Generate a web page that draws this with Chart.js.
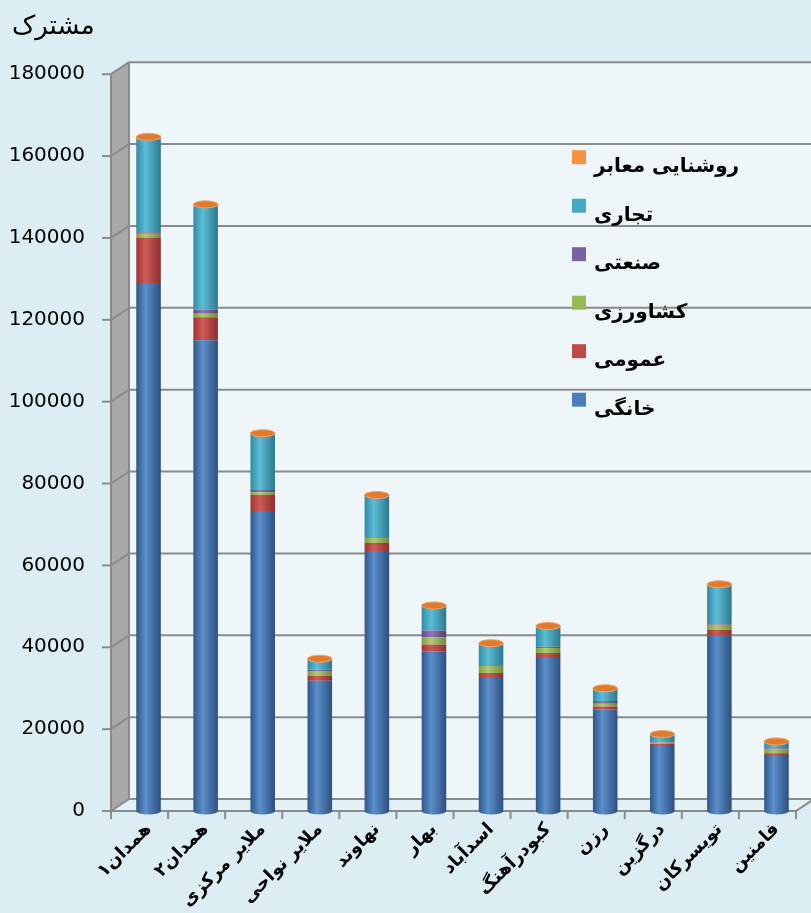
<!DOCTYPE html>
<html><head><meta charset="utf-8">
<script src="https://cdn.jsdelivr.net/npm/chart.js@4/dist/chart.umd.min.js"></script>
<style>html,body{margin:0;padding:0;background:#dcedf3;overflow:hidden}</style>
</head><body>
<canvas id="c" width="811" height="913"></canvas>
<script>
// ---- data ----
const categories = ['همدان۱','همدان۲','ملایر مرکزی','ملایر نواحی','نهاوند','بهار','اسدآباد','کبودرآهنگ','رزن','درگزین','تویسرکان','فامنین'];
const seriesNames = ['خانگی','عمومی','کشاورزی','صنعتی','تجاری','روشنایی معابر'];
const household   = [129000,115000,73300,31800,63500,39000,32500,37600,24800,16100,42800,13700];
const general     = [11000,5600,3900,1200,2000,1700,1200,1000,700,300,1500,400];
const agriculture = [1000,900,700,1200,1200,1700,1700,1200,700,300,1200,900];
const industrial  = [400,1000,500,300,200,1700,200,300,700,100,200,300];
const commercial  = [22700,25200,13500,2400,10000,5800,5100,4800,2900,1800,9400,1400];
const streetLight = [600,500,400,300,300,300,300,300,200,200,300,300];
const yTickLabels = ['0','20000','40000','60000','80000','100000','120000','140000','160000','180000'];
const yAxisTitle = 'مشترک';

// ---- styles ----
const BAR_PCT = 0.43;
const flat = ['#4a7ebb','#be4b48','#98b954','#7d60a0','#46aac5','#f69240'];
const shades = [
  ['#2f5788','#5c8fcb','#2c5080'],
  ['#9a3835','#cf5a55','#8a302d'],
  ['#7f9c44','#b0cc72','#6f8a3a'],
  ['#624a83','#9178b5','#553f73'],
  ['#338aa3','#5cbdd6','#2c788e'],
  ['#d8782f','#fba45c','#c86b26']
];
function cylFill(s) {
  return (ctx) => {
    const chart = ctx.chart;
    if (!chart.chartArea || ctx.type !== 'data' || !chart.scales.x) return shades[s][1];
    const xs = chart.scales.x;
    const cx = xs.getPixelForValue(ctx.dataIndex);
    const w = (xs.width / categories.length) * BAR_PCT;
    const g = chart.ctx.createLinearGradient(cx - w / 2, 0, cx + w / 2, 0);
    g.addColorStop(0, shades[s][0]);
    g.addColorStop(0.38, shades[s][1]);
    g.addColorStop(1, shades[s][2]);
    return g;
  };
}
const seriesData = [household, general, agriculture, industrial, commercial, streetLight];
const datasets = seriesData.map((d, i) => ({
  label: seriesNames[i],
  data: d,
  backgroundColor: cylFill(i),
  borderWidth: 0,
  barPercentage: BAR_PCT,
  categoryPercentage: 1
}));

const DX = 18, DY = -12, FRONT_IN = 9;
const deco = {
  id: 'deco',
  afterLayout(chart) {
    if (chart.titleBlock) chart.titleBlock.left += 8;
  },
  beforeDraw(chart) {
    const c = chart.ctx, ca = chart.chartArea, ys = chart.scales.y;
    const W = chart.width;
    c.save();
    c.fillStyle = '#dcedf3';
    c.fillRect(0, 0, W, chart.height);
    const yTop = ys.getPixelForValue(180000), yBot = ys.getPixelForValue(0);
    const FX = ca.left - FRONT_IN;
    const catW = (ca.right - ca.left) / categories.length;
    const FR = FX + catW * categories.length;
    c.fillStyle = '#eef6f9';
    c.fillRect(FX + DX, yTop + DY, W - (FX + DX), yBot - yTop);
    c.beginPath();
    c.moveTo(FX, yBot); c.lineTo(FX + DX, yBot + DY); c.lineTo(FR + DX, yBot + DY); c.lineTo(FR, yBot); c.closePath();
    c.fillStyle = '#e4f1f6'; c.fill();
    c.beginPath();
    c.moveTo(FX, yTop); c.lineTo(FX + DX, yTop + DY); c.lineTo(FX + DX, yBot + DY); c.lineTo(FX, yBot); c.closePath();
    c.fillStyle = '#a9a9a9'; c.fill();
    c.strokeStyle = '#8a8a8a'; c.lineWidth = 2;
    for (let v = 0; v <= 180000; v += 20000) {
      const y = ys.getPixelForValue(v);
      c.beginPath(); c.moveTo(FX + DX, y + DY); c.lineTo(W, y + DY); c.stroke();
      c.beginPath(); c.moveTo(FX, y); c.lineTo(FX + DX, y + DY); c.stroke();
      c.beginPath(); c.moveTo(FX - 9, y); c.lineTo(FX, y); c.stroke();
    }
    c.beginPath(); c.moveTo(FX, yTop); c.lineTo(FX, yBot); c.stroke();
    c.beginPath(); c.moveTo(FX + DX, yTop + DY); c.lineTo(FX + DX, yBot + DY); c.stroke();
    c.beginPath(); c.moveTo(FX, yBot); c.lineTo(FR, yBot); c.lineTo(FR + DX, yBot + DY); c.stroke();
    for (let k = 0; k <= categories.length; k++) {
      const x = FX + k * catW;
      c.beginPath(); c.moveTo(x, yBot); c.lineTo(x, yBot + 8); c.stroke();
    }
    c.restore();
  },
  afterDatasetsDraw(chart) {
    const c = chart.ctx, ys = chart.scales.y;
    const n = chart.data.datasets.length;
    const yBot = ys.getPixelForValue(0);
    const first = chart.getDatasetMeta(0).data;
    const last = chart.getDatasetMeta(n - 1).data;
    c.save();
    first.forEach((el) => {
      const w = el.width;
      c.beginPath();
      c.ellipse(el.x, yBot, w / 2, 3.5, 0, 0, Math.PI);
      const g = c.createLinearGradient(el.x - w / 2, 0, el.x + w / 2, 0);
      g.addColorStop(0, shades[0][0]); g.addColorStop(0.38, shades[0][1]); g.addColorStop(1, shades[0][2]);
      c.fillStyle = g; c.fill();
    });
    last.forEach((el) => {
      const w = el.width;
      c.beginPath();
      c.ellipse(el.x, el.y, w / 2, 3.5, 0, 0, Math.PI * 2);
      c.fillStyle = '#e07a2c'; c.fill();
      c.strokeStyle = '#f3a468'; c.lineWidth = 1; c.stroke();
    });
    c.restore();
  },
  afterDraw(chart) {
    const c = chart.ctx, ca = chart.chartArea;
    const ds = chart.data.datasets;
    c.save();
    c.font = 'bold 20px "DejaVu Sans"';
    c.textBaseline = 'middle';
    c.textAlign = 'left';
    const x0 = ca.left + 452, y0 = ca.top + 76, step = 48.5;
    for (let k = 0; k < ds.length; k++) {
      const i = ds.length - 1 - k;
      const y = y0 + k * step;
      c.fillStyle = flat[i];
      c.fillRect(x0, y, 14, 14);
      c.fillStyle = '#000';
      c.fillText(ds[i].label, x0 + 22, y + 17);
    }
    c.restore();
  }
};

new Chart(document.getElementById('c'), {
  type: 'bar',
  data: { labels: categories, datasets },
  options: {
    responsive: false,
    animation: false,
    devicePixelRatio: 1,
    layout: { padding: { top: 12, left: 4, right: 6, bottom: 0 } },
    plugins: {
      legend: { display: false },
      tooltip: { enabled: false },
      title: {
        display: true, text: yAxisTitle, align: 'start', color: '#000',
        font: { family: '"DejaVu Sans"', size: 26, weight: 'normal' },
        padding: { top: 0, bottom: 31 }
      }
    },
    scales: {
      x: {
        stacked: true,
        grid: { display: false, drawTicks: false },
        border: { display: false },
        ticks: {
          minRotation: 45, maxRotation: 45, autoSkip: false, padding: 8,
          color: '#000', font: { family: '"DejaVu Sans"', size: 18, weight: 'bold' }
        },
        afterFit: (s) => { s.height = 102; }
      },
      y: {
        stacked: true, min: 0, max: 180000,
        grid: { display: false, drawTicks: false },
        border: { display: false },
        ticks: {
          stepSize: 20000, padding: 35, color: '#000',
          font: { family: '"DejaVu Sans"', size: 20 },
          callback: (v, i) => yTickLabels[i]
        },
        afterFit: (s) => { s.width = 116; }
      }
    }
  },
  plugins: [deco]
});
</script>
</body></html>
